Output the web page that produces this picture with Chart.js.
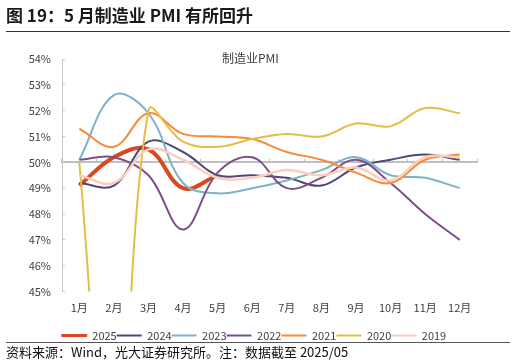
<!DOCTYPE html>
<html><head><meta charset="utf-8">
<script src="https://cdn.jsdelivr.net/npm/chart.js@4/dist/chart.umd.min.js"></script>
<style>
html,body{margin:0;padding:0;background:#fff;width:516px;height:364px;overflow:hidden;}
body{position:relative;font-family:"Noto Sans CJK SC","Noto Sans",sans-serif;}
#wrap{position:absolute;left:0;top:0;width:516px;height:364px;}
.t{position:absolute;white-space:nowrap;}
#hdr{left:6px;top:3px;font-size:17px;font-weight:bold;color:#1a1a1a;line-height:24px;}
#hline{position:absolute;left:6px;top:31px;width:504px;height:1px;background:#333;}
#ctitle{left:222px;top:49px;font-size:12px;color:#404040;line-height:18px;}
#fline{position:absolute;left:6px;top:342px;width:504px;height:1px;background:#555;}
#src{left:6px;top:343px;font-size:13px;color:#111;line-height:18px;}
</style></head>
<body>
<div id="wrap"><canvas id="c" width="516" height="364"></canvas></div>
<div class="t" id="hdr">图 19：5 月制造业 PMI 有所回升</div>
<div id="hline"></div>
<div class="t" id="ctitle">制造业PMI</div>
<div id="fline"></div>
<div class="t" id="src">资料来源：Wind，光大证券研究所。注：数据截至 2025/05</div>
<script>
const months = ["1月","2月","3月","4月","5月","6月","7月","8月","9月","10月","11月","12月"];
const seriesNames = ["2025","2024","2023","2022","2021","2020","2019"];
const pmi2025 = [49.1, 50.2, 50.5, 49.0, 49.5];
const pmi2024 = [49.2, 49.1, 50.8, 50.4, 49.5, 49.5, 49.4, 49.1, 49.8, 50.1, 50.3, 50.1];
const pmi2023 = [50.1, 52.6, 51.9, 49.2, 48.8, 49.0, 49.3, 49.7, 50.2, 49.5, 49.4, 49.0];
const pmi2022 = [50.1, 50.2, 49.5, 47.4, 49.6, 50.2, 49.0, 49.4, 50.1, 49.2, 48.0, 47.0];
const pmi2021 = [51.3, 50.6, 51.9, 51.1, 51.0, 50.9, 50.4, 50.1, 49.6, 49.2, 50.1, 50.3];
const pmi2020 = [50.0, 35.7, 52.0, 50.8, 50.6, 50.9, 51.1, 51.0, 51.5, 51.4, 52.1, 51.9];
const pmi2019 = [49.5, 49.2, 50.5, 50.1, 49.4, 49.4, 49.7, 49.5, 49.8, 49.3, 50.2, 50.2];
const yTicks = [45,46,47,48,49,50,51,52,53,54];

const values = [pmi2025, pmi2024, pmi2023, pmi2022, pmi2021, pmi2020, pmi2019];
const colors = ["#D9481F","#4E4877","#7FB1C9","#7D4E8D","#F58B3B","#E2BE46","#FBCFBD"];
const widths = [4, 2, 2, 2, 2, 2, 2.5];

const datasets = seriesNames.map((n,i)=>({
  label: n,
  data: values[i],
  borderColor: colors[i],
  backgroundColor: colors[i],
  borderWidth: widths[i],
  pointRadius: 0,
  tension: 0.38,
  fill: false,
  xAxisID: 'x',
  yAxisID: 'y',
  order: 10 - i
}));

const FONT = '"Noto Sans CJK SC","Noto Sans",sans-serif';
Chart.defaults.font.family = FONT;
Chart.defaults.color = '#404040';

new Chart(document.getElementById('c'), {
  type: 'line',
  data: { labels: months, datasets },
  options: {
    responsive: false,
    animation: false,
    devicePixelRatio: 1,
    layout: { padding: { top: 59, left: 0, right: 8, bottom: 13 } },
    plugins: {
      tooltip: { enabled: false },
      title: { display: false },
      legend: {
        position: 'bottom',
        labels: {
          boxWidth: 25, boxHeight: 2, padding: 0,
          font: { size: 11, family: FONT }, color: '#404040',
          sort: (a,b) => a.datasetIndex - b.datasetIndex,
          generateLabels: (chart) => {
            const items = Chart.defaults.plugins.legend.labels.generateLabels(chart);
            items.forEach(it => {
              it.fillStyle = colors[it.datasetIndex];
              it.strokeStyle = colors[it.datasetIndex];
              it.lineWidth = it.datasetIndex === 0 ? 1 : 0;
            });
            return items;
          }
        }
      }
    },
    scales: {
      x: {
        type: 'category',
        position: 'bottom',
        offset: true,
        grid: { display: false, drawTicks: false },
        border: { display: false },
        ticks: { padding: 10, font: { size: 11 }, color: '#404040', maxRotation: 0, autoSkip: false },
        afterFit: s => { s.height = 38.5; }
      },
      x2: {
        type: 'category',
        axis: 'x',
        position: { y: 50 },
        offset: true,
        grid: { display: true, drawOnChartArea: false, drawTicks: true, tickLength: -4, offset: true, color: '#bfbfbf', lineWidth: 1 },
        border: { display: true, color: '#bfbfbf', width: 2 },
        ticks: { display: false }
      },
      y: {
        type: 'linear',
        position: 'left',
        min: 45, max: 54,
        afterBuildTicks: s => { s.ticks = yTicks.map(v => ({ value: v })); },
        grid: { display: true, drawOnChartArea: false, drawTicks: true, tickLength: -3, color: '#c8c8c8' },
        border: { display: true, color: '#c8c8c8', width: 1 },
        ticks: { padding: 14, font: { size: 11 }, color: '#404040', callback: v => v + '%' },
        afterFit: s => { s.width = 62; }
      },
      yR: {
        type: 'linear',
        axis: 'y',
        position: 'right',
        display: true,
        grid: { display: false, drawTicks: false },
        border: { display: false },
        ticks: { display: false },
        afterFit: s => { s.width = 31; }
      }
    }
  }
});
</script>
</body></html>
